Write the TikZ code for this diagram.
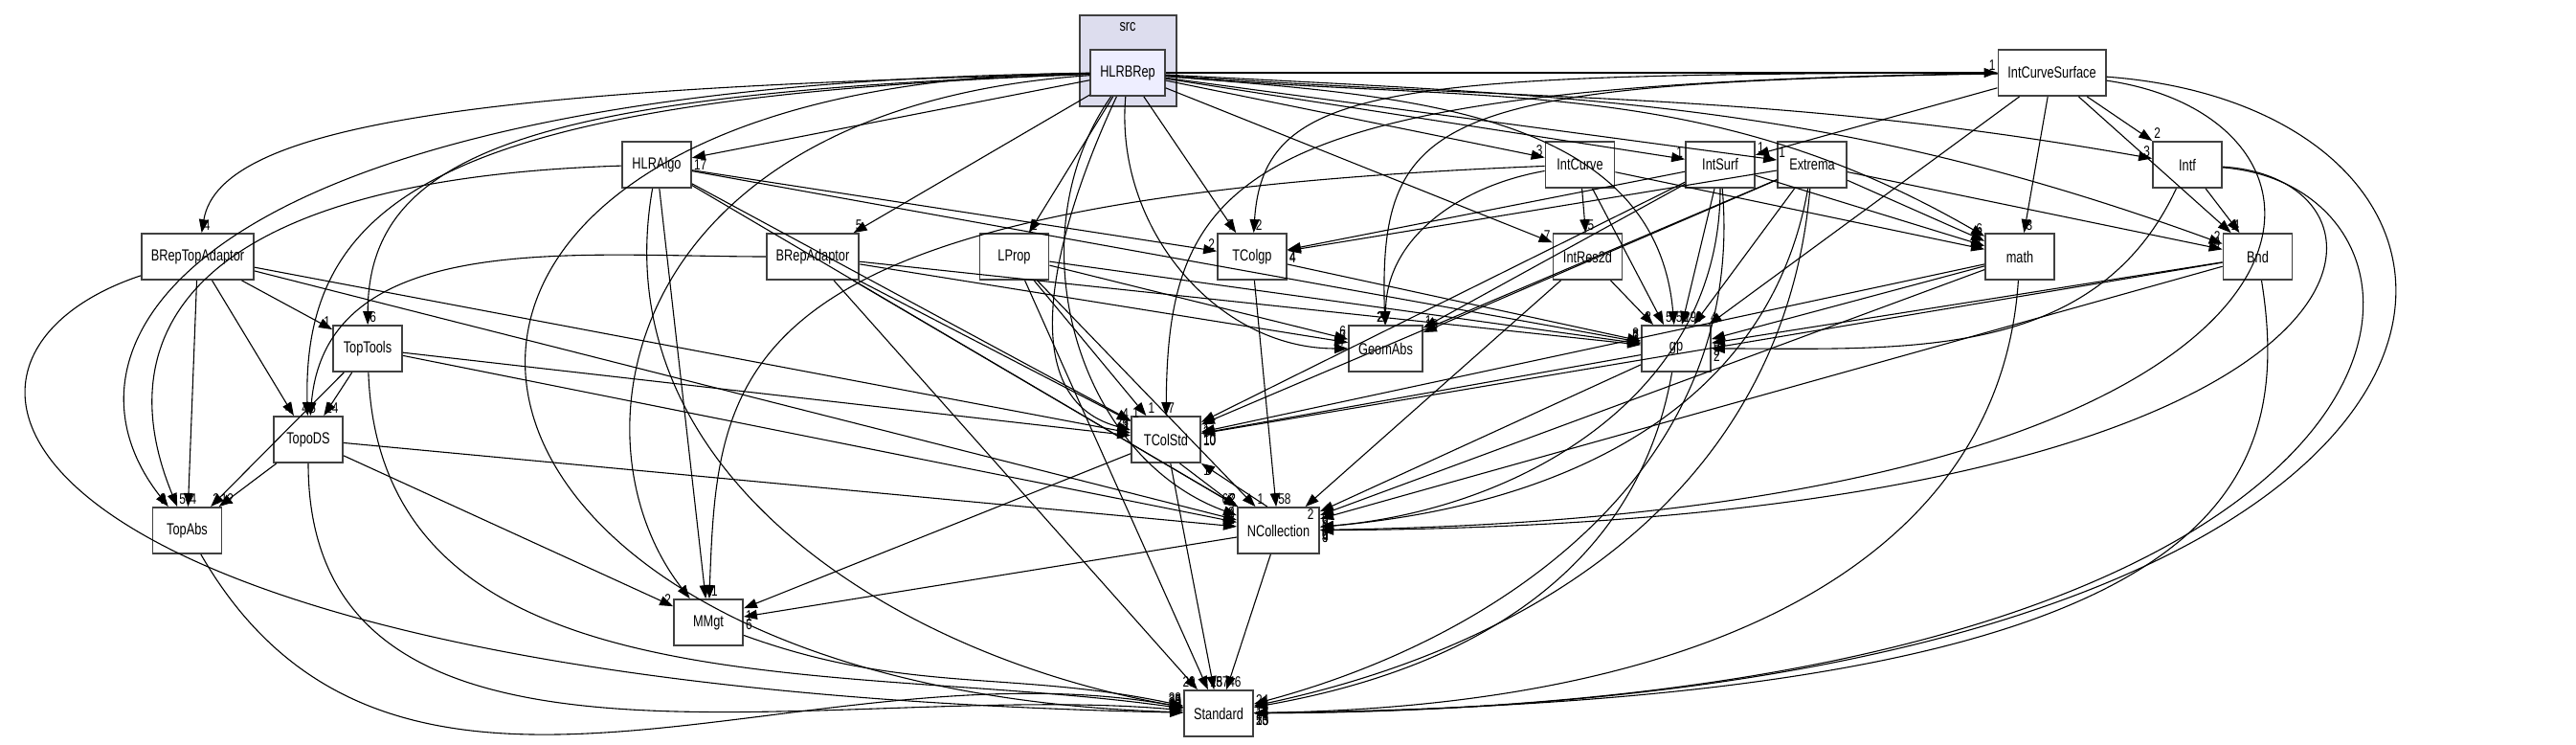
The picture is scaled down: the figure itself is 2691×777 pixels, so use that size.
\documentclass[tikz,border=0pt]{standalone}
\usepackage{fontspec}
\usetikzlibrary{arrows.meta}
\newfontfamily\dotfont{Liberation Sans}[FakeStretch=0.76]
\definecolor{clusterFill}{RGB}{221,221,238}
\definecolor{mainFill}{RGB}{238,238,255}
\definecolor{boxLine}{RGB}{64,64,64}

\begin{document}
\begin{tikzpicture}[x=0.5pt,y=0.5pt,
      dir/.style={draw=boxLine,line width=0.9pt,fill=white,minimum width=36pt,
                  minimum height=24pt,inner xsep=5pt,font=\dotfont\fontsize{8.4}{10}\selectfont},
      dep/.style={-{Triangle[length=7pt,width=5pt]},line width=0.55pt},
      hl/.style={pos=1,anchor=south west,inner sep=0.8pt,font=\dotfont\fontsize{7.8}{8}\selectfont},
      hll/.style={hl,anchor=south east},
      hlr/.style={hl,anchor=north west}]
    \useasboundingbox (0,0) rectangle (2691,777);
    % the src cluster
    \node[draw=boxLine,line width=0.9pt,fill=clusterFill,minimum width=50.5pt,minimum height=47.5pt] (src) at (1178.5,713.5) {};
    \node[font=\dotfont\fontsize{8.4}{10}\selectfont] (srclbl) at (1178,749) {src};
    \node[dir,fill=mainFill] (hlrbrep) at (1178,701) {HLRBRep};
    \node[dir] (intcurvesurface) at (2143.5,701) {IntCurveSurface};
    % row 2
    \node[dir] (hlralgo) at (686,605) {HLRAlgo};
    \node[dir] (intcurve) at (1650.5,605) {IntCurve};
    \node[dir] (intsurf) at (1797,605) {IntSurf};
    \node[dir] (extrema) at (1893,605) {Extrema};
    \node[dir] (intf) at (2285,605) {Intf};
    % row 3
    \node[dir] (breptopadaptor) at (206.5,509) {BRepTopAdaptor};
    \node[dir] (brepadaptor) at (849,509) {BRepAdaptor};
    \node[dir] (lprop) at (1059.5,509) {LProp};
    \node[dir] (tcolgp) at (1308,509) {TColgp};
    \node[dir] (intres2d) at (1658.5,509) {IntRes2d};
    \node[dir] (math) at (2110,509) {math};
    \node[dir] (bnd) at (2358.5,509) {Bnd};
    % lower rows
    \node[dir] (toptools) at (384,413) {TopTools};
    \node[dir] (geomabs) at (1447.5,413) {GeomAbs};
    \node[dir] (gp) at (1751,413) {gp};
    \node[dir] (topods) at (322,318) {TopoDS};
    \node[dir] (tcolstd) at (1218,318) {TColStd};
    \node[dir] (topabs) at (195.5,223) {TopAbs};
    \node[dir] (ncollection) at (1335.5,223) {NCollection};
    \node[dir] (mmgt) at (740,127) {MMgt};
    \node[dir] (standard) at (1273,32) {Standard};

    % straight dependencies: source/target/count/label style
    \foreach \a/\b/\lab/\s in {
        hlrbrep/hlralgo/17/hlr, hlrbrep/lprop/2/hl, hlrbrep/tcolgp/7/hll,
        hlrbrep/intcurve/3/hll, hlrbrep/intsurf/1/hll, hlrbrep/extrema/1/hl,
        hlrbrep/intcurvesurface/1/hll, hlrbrep/intres2d/7/hll, hlrbrep/brepadaptor/5/hl,
        hlralgo/tcolgp/2/hll, hlralgo/gp/7/hll, hlralgo/tcolstd/1/hl,
        hlralgo/ncollection/2/hll, hlralgo/mmgt/7/hl,
        breptopadaptor/toptools/1/hll, breptopadaptor/topods/4/hll, breptopadaptor/topabs/4/hl,
        breptopadaptor/tcolstd/3/hll, breptopadaptor/ncollection/2/hll,
        brepadaptor/geomabs/7/hll, brepadaptor/gp/5/hll, brepadaptor/tcolstd/4/hll,
        brepadaptor/ncollection/2/hll, brepadaptor/standard/29/hll,
        toptools/topods/24/hl, toptools/topabs/2/hl, toptools/tcolstd/7/hll,
        toptools/ncollection/2/hll,
        topods/topabs/12/hl, topods/ncollection/2/hll, topods/mmgt/2/hll,
        lprop/geomabs/6/hll, lprop/gp/2/hll, lprop/tcolstd/1/hl,
        lprop/ncollection/1/hl, lprop/standard/18/hl,
        tcolgp/gp/8/hll, tcolgp/ncollection/58/hl,
        intcurve/gp/5/hl, intcurve/intres2d/5/hl, intcurve/math/1/hll,
        intsurf/tcolgp/4/hlr, intsurf/geomabs/1/hl, intsurf/gp/29/hl,
        intsurf/math/17/hll, intsurf/tcolstd/1/hlr,
        extrema/tcolgp/4/hlr, extrema/geomabs/13/hl, extrema/gp/9/hl,
        extrema/math/2/hll, extrema/bnd/4/hll, extrema/tcolstd/3/hlr,
        intcurvesurface/intsurf/1/hl, intcurvesurface/intf/2/hl, intcurvesurface/math/3/hl,
        intcurvesurface/bnd/4/hl, intcurvesurface/gp/4/hl,
        intres2d/gp/2/hll, intres2d/ncollection/2/hlr, intf/bnd/1/hll,
        math/gp/9/hlr, math/tcolstd/10/hlr, math/ncollection/9/hlr,
        bnd/gp/5/hlr, bnd/tcolstd/1/hlr, bnd/ncollection/6/hlr,
        gp/tcolstd/10/hlr, gp/ncollection/8/hlr,
        tcolstd/mmgt/1/hlr, tcolstd/standard/57/hl,
        ncollection/mmgt/6/hlr, ncollection/standard/46/hl}
      \draw[dep] (\a) -- (\b) node[\s]{\lab};
    \draw[dep] (tcolstd.-60) -- (ncollection.north west) node[hll]{67};
    \draw[dep] (ncollection.115) -- (tcolstd.south east) node[hlr]{1};

    % routed dependencies
    \draw[dep] (hlrbrep) .. controls (200,690) and (40,420) .. (topabs) node[hll]{9};
    \draw[dep] (hlrbrep) .. controls (520,685) and (230,650) .. (breptopadaptor) node[hl]{4};
    \draw[dep] (hlrbrep) .. controls (560,680) and (385,620) .. (toptools) node[hl]{6};
    \draw[dep] (hlrbrep) .. controls (480,675) and (315,580) .. (topods) node[hl]{5};
    \draw[dep] (hlrbrep) .. controls (650,665) and (590,320) .. (mmgt) node[hll]{4};
    \draw[dep] (hlrbrep) .. controls (300,695) and (380,60) .. (standard) node[hll]{38};
    \draw[dep] (hlrbrep) to[out=-95,in=180] node[hll]{17} (geomabs);
    \draw[dep] (hlrbrep) to[out=-5,in=95] node[hl]{59} (gp);
    \draw[dep] (hlrbrep) to[out=-115,in=165] node[hll]{23} (tcolstd);
    \draw[dep] (hlrbrep) to[out=-125,in=160] node[hll]{2} (ncollection);
    \draw[dep] (hlrbrep) to[out=-5,in=150] node[hll]{6} (math);
    \draw[dep] (hlrbrep) to[out=-3,in=160] node[hll]{2} (bnd);
    \draw[dep] (hlrbrep) to[out=-4,in=170] node[hll]{3} (intf);
    \draw[dep] (hlralgo) .. controls (200,590) and (110,430) .. (topabs) node[hl]{5};
    \draw[dep] (hlralgo) to[out=-100,in=170] node[hll]{30} (standard);
    \draw[dep] (breptopadaptor) .. controls (-120,400) and (-20,60) .. (standard) node[hll]{9};
    \draw[dep] (brepadaptor) to[out=180,in=85] node[hll]{4} (topods);
    \draw[dep] (toptools) to[out=-88,in=172] node[hll]{3} (standard);
    \draw[dep] (topods) to[out=-90,in=175] node[hll]{20} (standard);
    \draw[dep] (topabs) to[out=-60,in=170] node[hll]{3} (standard);
    \draw[dep] (mmgt) to[out=-20,in=168] node[hll]{33} (standard);
    \draw[dep] (intcurve) to[out=190,in=90] node[hll]{2} (geomabs);
    \draw[dep] (intcurve) .. controls (760,570) and (750,400) .. (mmgt) node[hl]{1};
    \draw[dep] (intcurvesurface) .. controls (1450,700) and (1320,690) .. (tcolgp) node[hl]{2};
    \draw[dep] (intcurvesurface) .. controls (1500,690) and (1440,660) .. (geomabs) node[hll]{2};
    \draw[dep] (intcurvesurface) .. controls (1300,690) and (1220,600) .. (tcolstd) node[hl]{7};
    \draw[dep] (intcurvesurface) .. controls (2500,650) and (2480,240) .. (ncollection) node[hlr]{9};
    \draw[dep] (intcurvesurface) .. controls (2700,660) and (2690,40) .. (standard) node[hlr]{10};
    \draw[dep] (intf) to[out=-115,in=0] node[hlr]{2} (gp);
    \draw[dep] (intf) .. controls (2540,590) and (2520,230) .. (ncollection) node[hlr]{4};
    \draw[dep] (intf) .. controls (2600,580) and (2590,40) .. (standard) node[hlr]{5};
    \draw[dep] (bnd) .. controls (2400,250) and (2300,45) .. (standard) node[hlr]{13};
    \draw[dep] (math) .. controls (2090,200) and (1800,40) .. (standard) node[hlr]{25};
    \draw[dep] (gp) to[out=-100,in=10] node[hl]{24} (standard);
    \draw[dep] (intsurf) to[out=-90,in=5] node[hlr]{9} (ncollection);
    \draw[dep] (intsurf) to[out=-85,in=15] node[hlr]{18} (standard);
    \draw[dep] (extrema) to[out=-100,in=5] node[hlr]{6} (ncollection);
    \draw[dep] (extrema) to[out=-95,in=12] node[hlr]{19} (standard);
  \end{tikzpicture}
\end{document}
